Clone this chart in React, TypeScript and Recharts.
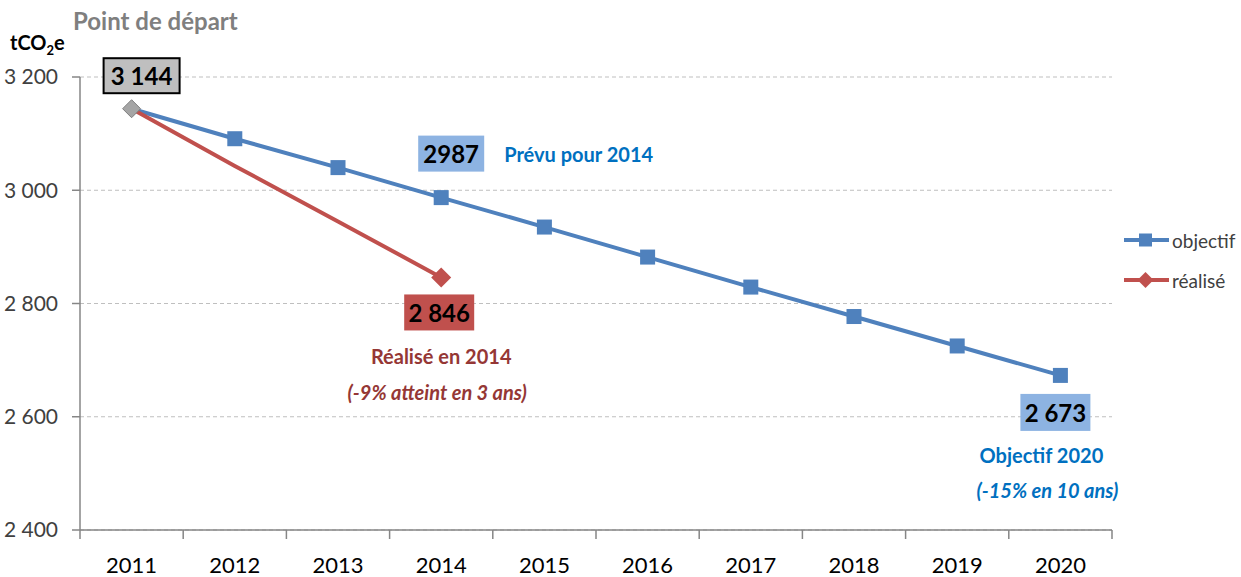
import React from 'react';
import { LineChart, Line, XAxis, YAxis, CartesianGrid, ReferenceDot } from 'recharts';

const years = ['2011', '2012', '2013', '2014', '2015', '2016', '2017', '2018', '2019', '2020'];
const objectif = [3144, 3091, 3040, 2987, 2935, 2882, 2829, 2777, 2725, 2673];
const realise: (number | null)[] = [3144, 3043, 2945, 2846, null, null, null, null, null, null];
const yTicks = [2400, 2600, 2800, 3000, 3200];

const BLUE = '#4F81BD';
const RED = '#C0504D';
const AXIS = '#868686';
const FONT = 'Lato, "Open Sans", sans-serif';

const data = years.map((y, i) => ({ year: y, objectif: objectif[i], realise: realise[i] }));

const fmt = (v: number) => String(v).replace(/\B(?=(\d{3})+(?!\d))/g, ' ');

// year label + tick marks on the band edges
const YearTick = (props: any) => {
  const { x, y, payload, index } = props;
  const half = payload && payload.offset ? payload.offset : 0;
  return (
    <g>
      <line x1={x - half} y1={y} x2={x - half} y2={y + 9} stroke={AXIS} strokeWidth={1.5} />
      {index === years.length - 1 && (
        <line x1={x + half} y1={y} x2={x + half} y2={y + 9} stroke={AXIS} strokeWidth={1.5} />
      )}
      <text x={x} y={y + 34} textAnchor="middle" dominantBaseline="central" fontFamily={FONT} fontSize={22} fill="#000">
        {payload.value}
      </text>
    </g>
  );
};

// box + text, offset from the anchor point
const Box = (props: any) => {
  const { viewBox, dx, dy, w, h, fill, stroke, text } = props;
  const cx = viewBox.x + viewBox.width / 2 + dx;
  const cy = viewBox.y + viewBox.height / 2 + dy;
  return (
    <g>
      <rect x={cx - w / 2} y={cy - h / 2} width={w} height={h} fill={fill} stroke={stroke || 'none'} strokeWidth={2} />
      <text x={cx} y={cy} textAnchor="middle" dominantBaseline="central" fontFamily={FONT} fontWeight={700} fontSize={24} fill="#000">
        {text}
      </text>
    </g>
  );
};

const Note = (props: any) => {
  const { viewBox, lines } = props;
  const cx = viewBox.x + viewBox.width / 2;
  const cy = viewBox.y + viewBox.height / 2;
  return (
    <g>
      {lines.map((l: any, i: number) => (
        <text key={i} x={cx + l.dx} y={cy + l.dy} textAnchor={l.anchor || 'middle'} dominantBaseline="central"
          fontFamily={FONT} fontWeight={700} fontStyle={l.italic ? 'italic' : 'normal'} fontSize={20} fill={l.color}>
          {l.text}
        </text>
      ))}
    </g>
  );
};

const ObjDot = (p: any) => {
  if (p.index === 0) return <g key={p.key} />;
  return <rect key={p.key} x={p.cx - 7.5} y={p.cy - 7.5} width={15} height={15} fill={BLUE} />;
};

const RealDot = (p: any) => {
  if (p.index !== 0 && p.index !== 3) return <g key={p.key} />;
  const s = p.index === 0 ? 9 : 10;
  const pts = `${p.cx},${p.cy - s} ${p.cx + s},${p.cy} ${p.cx},${p.cy + s} ${p.cx - s},${p.cy}`;
  if (p.index === 0) return <polygon key={p.key} points={pts} fill="#A5A5A5" stroke="#7F7F7F" strokeWidth={1} />;
  return <polygon key={p.key} points={pts} fill={RED} />;
};

const legendItems = [
  { name: 'objectif', color: BLUE, square: true },
  { name: 'réalisé', color: RED, square: false },
];

const LegendBox = () => (
  <div style={{ position: 'absolute', left: 1124, top: 220, fontFamily: FONT, fontSize: 19, color: '#404040' }}>
    {legendItems.map((it) => (
      <div key={it.name} style={{ display: 'flex', alignItems: 'center', height: 40 }}>
        <svg width={46} height={20}>
          <line x1={0} y1={10} x2={45} y2={10} stroke={it.color} strokeWidth={4} />
          {it.square ? (
            <rect x={15} y={3.5} width={13} height={13} fill={it.color} />
          ) : (
            <polygon points="21.5,2 29.5,10 21.5,18 13.5,10" fill={it.color} />
          )}
        </svg>
        <span style={{ marginLeft: 2 }}>{it.name}</span>
      </div>
    ))}
  </div>
);

export default function App() {
  return (
    <div style={{ position: 'absolute', left: 0, top: 0, width: 1241, height: 577, background: '#fff' }}>
      <div style={{ position: 'absolute', left: 73, top: 6, fontFamily: FONT, fontWeight: 700, fontSize: 24, color: '#7F7F7F' }}>
        Point de départ
      </div>
      <div style={{ position: 'absolute', left: 10, top: 30, fontFamily: FONT, fontWeight: 700, fontSize: 20, color: '#000' }}>
        tCO<sub style={{ fontSize: 13 }}>2</sub>e
      </div>
      <LineChart width={1241} height={577} data={data} margin={{ top: 77, right: 129, bottom: 0, left: 0 }}>
        <CartesianGrid vertical={false} stroke="#BFBFBF" strokeDasharray="4 3" />
        <XAxis dataKey="year" scale="band" height={47} axisLine={{ stroke: AXIS, strokeWidth: 1.5 }}
          tickLine={false} tickSize={0} tickMargin={0} interval={0} tick={<YearTick />} />
        <YAxis width={80} domain={[2400, 3200]} ticks={yTicks} tickFormatter={fmt}
          axisLine={{ stroke: AXIS, strokeWidth: 1.5 }} tickLine={{ stroke: AXIS, strokeWidth: 1.5 }}
          tickSize={8} tickMargin={14} tick={{ fontFamily: FONT, fontSize: 21, fill: '#404040' }} />
        <Line type="linear" dataKey="objectif" name="objectif" stroke={BLUE} strokeWidth={4}
          dot={ObjDot} activeDot={false} isAnimationActive={false} />
        <Line type="linear" dataKey="realise" name="réalisé" stroke={RED} strokeWidth={4}
          dot={RealDot} activeDot={false} connectNulls={false} isAnimationActive={false} />

        <ReferenceDot x="2011" y={objectif[0]} r={0} fill="none" stroke="none" ifOverflow="visible"
          label={<Box dx={10} dy={-33} w={76} h={35} fill="#BFBFBF" stroke="#000" text={fmt(objectif[0])} />} />
        <ReferenceDot x="2014" y={objectif[3]} r={0} fill="none" stroke="none" ifOverflow="visible"
          label={<Box dx={10} dy={-44} w={66} h={36} fill="#8DB3E2" text={String(objectif[3])} />} />
        <ReferenceDot x="2014" y={objectif[3]} r={0} fill="none" stroke="none" ifOverflow="visible"
          label={<Note lines={[{ dx: 63, dy: -44, anchor: 'start', text: 'Prévu pour 2014', color: '#0070C0' }]} />} />
        <ReferenceDot x="2014" y={realise[3] as number} r={0} fill="none" stroke="none" ifOverflow="visible"
          label={<Box dx={-2} dy={35} w={70} h={36} fill={RED} text={fmt(realise[3] as number)} />} />
        <ReferenceDot x="2014" y={realise[3] as number} r={0} fill="none" stroke="none" ifOverflow="visible"
          label={<Note lines={[
            { dx: 0, dy: 79, text: 'Réalisé en 2014', color: '#953735' },
            { dx: -4, dy: 115, text: '(-9% atteint en 3 ans)', color: '#953735', italic: true },
          ]} />} />
        <ReferenceDot x="2020" y={objectif[9]} r={0} fill="none" stroke="none" ifOverflow="visible"
          label={<Box dx={-5} dy={37} w={70} h={37} fill="#8DB3E2" text={fmt(objectif[9])} />} />
        <ReferenceDot x="2020" y={objectif[9]} r={0} fill="none" stroke="none" ifOverflow="visible"
          label={<Note lines={[
            { dx: -19, dy: 80, text: 'Objectif 2020', color: '#0070C0' },
            { dx: -13, dy: 115, text: '(-15% en 10 ans)', color: '#0070C0', italic: true },
          ]} />} />
      </LineChart>
      <LegendBox />
    </div>
  );
}
